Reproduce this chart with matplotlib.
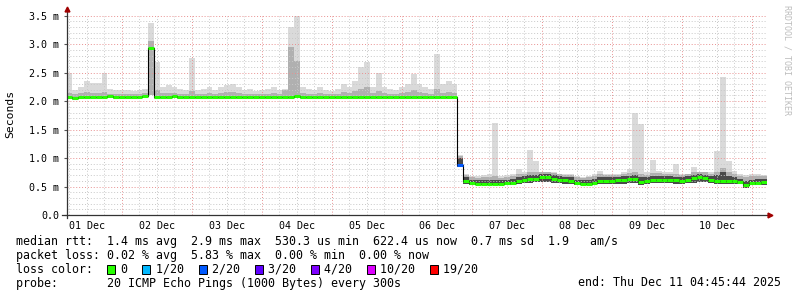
import numpy as np
import matplotlib
matplotlib.use("Agg")
import matplotlib.pyplot as plt
from matplotlib.patches import Rectangle

W, H = 797, 297
MONO = "DejaVu Sans Mono"
nan = float("nan")

# time axis: hours after 01 Dec 00:00, 2 hour bins
START_H = 5
STEP_H = 2
X_MIN, X_MAX = 5.15, 245.15

# median rtt per bin (ms)
median_ms = [
    2.07, 2.06, 2.07, 2.08, 2.08, 2.08, 2.08, 2.09, 2.08, 2.08,
    2.08, 2.08, 2.08, 2.09, 2.93, 2.08, 2.08, 2.08, 2.09, 2.08,
    2.08, 2.08, 2.08, 2.08, 2.08, 2.07, 2.08, 2.08, 2.08, 2.08,
    2.08, 2.08, 2.08, 2.08, 2.08, 2.08, 2.08, 2.08, 2.08, 2.09,
    2.08, 2.08, 2.08, 2.08, 2.08, 2.08, 2.08, 2.08, 2.07, 2.08,
    2.08, 2.08, 2.08, 2.08, 2.08, 2.08, 2.08, 2.08, 2.08, 2.08,
    2.08, 2.08, 2.08, 2.08, 2.08, 2.08, 2.08,
    0.88, 0.60, 0.56, 0.55, 0.55, 0.55, 0.55, 0.55, 0.56, 0.57,
    0.60, 0.62, 0.63, 0.64, 0.66, 0.66, 0.64, 0.62, 0.61, 0.60,
    0.56, 0.55, 0.55, 0.57, 0.60, 0.60, 0.60, 0.61, 0.62, 0.63,
    0.63, 0.58, 0.60, 0.62, 0.62, 0.62, 0.62, 0.61, 0.60, 0.62,
    0.65, 0.66, 0.65, 0.62, 0.60, 0.60, 0.60, 0.60, 0.58, 0.52,
    0.56, 0.57, 0.58,
]

# fastest ping per bin (bottom of smoke)
smoke_lo = [
    2.03, 2.02, 2.03, 2.04, 2.04, 2.04, 2.04, 2.05, 2.04, 2.04,
    2.04, 2.04, 2.04, 2.05, 2.10, 2.04, 2.04, 2.03, 2.05, 2.04,
    2.04, 2.04, 2.04, 2.04, 2.03, 2.03, 2.04, 2.04, 2.04, 2.04,
    2.04, 2.04, 2.04, 2.04, 2.04, 2.03, 2.04, 2.04, 2.04, 2.05,
    2.04, 2.04, 2.04, 2.04, 2.04, 2.04, 2.04, 2.03, 2.03, 2.04,
    2.04, 2.04, 2.04, 2.04, 2.04, 2.04, 2.04, 2.04, 2.04, 2.03,
    2.04, 2.04, 2.04, 2.04, 2.04, 2.04, 2.04,
    0.85, 0.55, 0.52, 0.52, 0.52, 0.52, 0.52, 0.52, 0.52, 0.53,
    0.55, 0.56, 0.57, 0.58, 0.58, 0.58, 0.57, 0.56, 0.55, 0.55,
    0.52, 0.52, 0.52, 0.53, 0.54, 0.55, 0.55, 0.55, 0.55, 0.56,
    0.56, 0.53, 0.55, 0.56, 0.56, 0.56, 0.56, 0.55, 0.55, 0.56,
    0.57, 0.58, 0.58, 0.56, 0.55, 0.55, 0.55, 0.55, 0.54, 0.48,
    0.52, 0.52, 0.53,
]

# top of the densely packed pings (dark smoke), nan where there is none
smoke_dense = [nan] * 14 + [2.93] + [nan] * 52 + [
    1.00, 0.66, 0.62, 0.61, 0.61, 0.61, 0.62, 0.61, 0.62, 0.63,
    0.66, 0.68, 0.70, 0.70, 0.72, 0.72, 0.70, 0.68, 0.67, 0.66,
    0.62, 0.61, 0.61, 0.63, 0.66, 0.66, 0.66, 0.67, 0.68, 0.69,
    0.70, 0.66, 0.66, 0.68, 0.68, 0.68, 0.68, 0.67, 0.66, 0.68,
    0.71, 0.72, 0.71, 0.68, 0.70, 0.75, 0.68, 0.66, 0.64, 0.60,
    0.62, 0.63, 0.64,
]

# top of the medium grey smoke
smoke_mid = [
    2.14, 2.12, 2.14, 2.16, 2.15, 2.15, 2.16, 2.13, 2.12, 2.12,
    2.13, 2.12, 2.13, 2.14, 3.05, 2.20, 2.14, 2.15, 2.14, 2.13,
    2.12, 2.18, 2.12, 2.13, 2.14, 2.12, 2.14, 2.16, 2.16, 2.14,
    2.12, 2.13, 2.12, 2.12, 2.13, 2.14, 2.13, 2.20, 2.95, 2.70,
    2.15, 2.13, 2.12, 2.14, 2.12, 2.12, 2.13, 2.16, 2.14, 2.17,
    2.22, 2.24, 2.14, 2.18, 2.14, 2.13, 2.12, 2.14, 2.16, 2.20,
    2.16, 2.14, 2.13, 2.22, 2.15, 2.16, 2.14,
    1.03, 0.70, 0.66, 0.65, 0.66, 0.66, 0.68, 0.65, 0.67, 0.68,
    0.72, 0.72, 0.75, 0.75, 0.75, 0.76, 0.74, 0.72, 0.71, 0.70,
    0.66, 0.65, 0.66, 0.68, 0.72, 0.70, 0.70, 0.71, 0.72, 0.74,
    0.76, 0.72, 0.71, 0.74, 0.73, 0.72, 0.72, 0.72, 0.70, 0.72,
    0.76, 0.75, 0.75, 0.72, 0.76, 0.82, 0.75, 0.72, 0.69, 0.66,
    0.68, 0.68, 0.68,
]

# slowest ping per bin (top of smoke)
smoke_hi = [
    2.49, 2.20, 2.25, 2.36, 2.31, 2.31, 2.50, 2.22, 2.20, 2.19,
    2.20, 2.18, 2.20, 2.22, 3.37, 2.68, 2.25, 2.28, 2.25, 2.22,
    2.20, 2.75, 2.20, 2.22, 2.25, 2.20, 2.25, 2.28, 2.30, 2.25,
    2.20, 2.22, 2.18, 2.20, 2.22, 2.25, 2.20, 2.22, 3.30, 3.55,
    2.25, 2.22, 2.20, 2.25, 2.20, 2.18, 2.22, 2.30, 2.25, 2.35,
    2.60, 2.68, 2.25, 2.50, 2.25, 2.22, 2.20, 2.25, 2.30, 2.48,
    2.30, 2.25, 2.22, 2.82, 2.30, 2.35, 2.30,
    1.05, 0.72, 0.68, 0.68, 0.70, 0.72, 1.62, 0.68, 0.70, 0.72,
    0.80, 0.75, 1.15, 0.95, 0.75, 0.76, 0.75, 0.72, 0.72, 0.72,
    0.68, 0.67, 0.68, 0.72, 0.78, 0.72, 0.72, 0.72, 0.75, 0.80,
    1.79, 1.60, 0.75, 0.96, 0.78, 0.76, 0.75, 0.90, 0.72, 0.72,
    0.85, 0.76, 0.76, 0.75, 1.13, 2.42, 0.95, 0.78, 0.72, 0.70,
    0.72, 0.72, 0.70,
]

# lost pings (of 20) per bin
loss = [0] * 67 + [2] + [0] * 52

day_labels = ["01 Dec", "02 Dec", "03 Dec", "04 Dec", "05 Dec",
              "06 Dec", "07 Dec", "08 Dec", "09 Dec", "10 Dec"]
y_ticks = [0.0, 0.5, 1.0, 1.5, 2.0, 2.5, 3.0, 3.5]
y_labels = ["0.0", "0.5 m", "1.0 m", "1.5 m", "2.0 m", "2.5 m", "3.0 m", "3.5 m"]

loss_steps = [0, 1, 2, 3, 4, 10, 19]
loss_names = ["0", "1/20", "2/20", "3/20", "4/20", "10/20", "19/20"]
loss_colors = ["#26ff00", "#00b8ff", "#0059ff", "#5e00ff", "#7e00ff", "#dd00ff", "#ff0000"]

stat_rtt = "median rtt:  1.4 ms avg  2.9 ms max  530.3 us min  622.4 us now  0.7 ms sd  1.9   am/s"
stat_loss = "packet loss: 0.02 % avg  5.83 % max  0.00 % min  0.00 % now"
probe_txt = "probe:       20 ICMP Echo Pings (1000 Bytes) every 300s"
end_txt = "end: Thu Dec 11 04:45:44 2025"

fig = plt.figure(figsize=(W / 100, H / 100), dpi=100, facecolor="white")
ax = fig.add_axes([67 / W, 1 - 215 / H, 700 / W, 199.3 / H])
ax.set_facecolor("white")

n = len(median_ms)
x = START_H + STEP_H * np.arange(n)
xe = np.append(x, x[-1] + STEP_H)
ext = lambda a: np.append(a, a[-1])

# smoke, light to dark
ax.fill_between(xe, ext(smoke_lo), ext(smoke_hi), step="post", color="#dadada", lw=0, zorder=1)
ax.fill_between(xe, ext(smoke_lo), ext(smoke_mid), step="post", color="#b0b0b0", lw=0, zorder=1.1)
dense = np.array(smoke_dense)
ax.fill_between(xe, ext(smoke_lo), ext(dense), where=~np.isnan(ext(dense)), step="post",
                color="#4a4a4a", lw=0, zorder=1.2)

# grid (dotted, on top of smoke)
for h in range(6, 246, 6):
    if h % 24:
        ax.axvline(h, color="#c8c8c8", lw=0.7, ls=(0, (1, 2)), zorder=2)
for k in range(1, 35):
    if k % 5:
        ax.axhline(k / 10, color="#c8c8c8", lw=0.7, ls=(0, (1, 2)), zorder=2)
for h in range(24, 246, 24):
    ax.axvline(h, color="#e89090", lw=0.7, ls=(0, (1, 2)), zorder=2.1)
for v in y_ticks[1:]:
    ax.axhline(v, color="#e89090", lw=0.7, ls=(0, (1, 2)), zorder=2.1)

# median: black connector, loss coloured segments
ax.step(xe, ext(median_ms), where="post", color="black", lw=0.8, zorder=3)
seg_colors = [loss_colors[max(i for i, s in enumerate(loss_steps) if s <= l)] for l in loss]
ax.hlines(median_ms, x, x + STEP_H, colors=seg_colors, lw=2.2, zorder=4)

ax.set_xlim(X_MIN, X_MAX)
ax.set_ylim(0, 3.5)
for s in ax.spines.values():
    s.set_visible(False)

ax.set_xticks(np.arange(12, 240, 24), day_labels)
ax.set_yticks(y_ticks, y_labels)
ax.tick_params(axis="x", length=0, pad=4, labelsize=7.2)
ax.tick_params(axis="y", length=2.5, width=0.8, color="#555555", pad=3, labelsize=7.2)
for t in ax.get_xticklabels() + ax.get_yticklabels():
    t.set_family(MONO)

# axis lines with arrows
ax.plot([0, 0], [-0.015, 1.03], transform=ax.transAxes, color="#333333", lw=0.9, clip_on=False, zorder=5)
ax.plot([-0.007, 1.004], [0, 0], transform=ax.transAxes, color="#333333", lw=0.9, clip_on=False, zorder=5)
ax.plot([0], [1.035], transform=ax.transAxes, marker="^", ms=3.5, color="#a00000", clip_on=False, zorder=6)
ax.plot([1.005], [0], transform=ax.transAxes, marker=">", ms=3.5, color="#a00000", clip_on=False, zorder=6)

fig.text(10 / W, 1 - 114 / H, "Seconds", rotation=90, ha="center", va="center", family=MONO, fontsize=8.2)
fig.text(787 / W, 1 - 60 / H, "RRDTOOL / TOBI OETIKER", rotation=270, ha="center", va="center",
         family=MONO, fontsize=6, color="#bdbdbd")

# legend text block
FS = 8.4
cw = 0.602 * FS * 100 / 72
x0 = 16
fig.text(x0 / W, 1 - 241 / H, stat_rtt, family=MONO, fontsize=FS, va="center")
fig.text(x0 / W, 1 - 255 / H, stat_loss, family=MONO, fontsize=FS, va="center")

line3 = "loss color:  "
box_pos = []
for name in loss_names:
    box_pos.append(len(line3))
    line3 += "  " + name + "  "
fig.text(x0 / W, 1 - 269 / H, line3, family=MONO, fontsize=FS, va="center")
for c, col in zip(box_pos, loss_colors):
    bx = x0 + c * cw
    fig.add_artist(Rectangle((bx / W, 1 - 274 / H), 8 / W, 9 / H, transform=fig.transFigure,
                             facecolor=col, edgecolor="black", lw=0.7))

fig.text(x0 / W, 1 - 283 / H, probe_txt, family=MONO, fontsize=FS, va="center")
fig.text(781 / W, 1 - 283 / H, end_txt, family=MONO, fontsize=FS, va="center", ha="right")

fig.savefig("out.png", dpi=100, facecolor="white")
